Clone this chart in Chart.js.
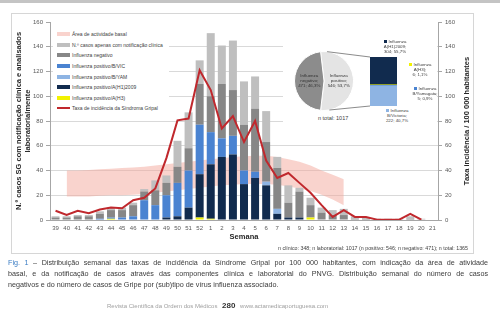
<!DOCTYPE html>
<html>
<head>
<meta charset="utf-8">
<script src="https://cdn.jsdelivr.net/npm/chart.js@4.4.0/dist/chart.umd.min.js"></script>
<style>
  body { margin: 0; width: 500px; height: 330px; background: #fff; position: relative; overflow: hidden;
         font-family: "Liberation Sans", Arial, sans-serif; }
  #topbar { position: absolute; left: 0; top: 0; width: 500px; height: 3px; background: #c4c4c4; }
  #frame { position: absolute; left: 11px; top: 13px; width: 461px; height: 239px; border: 1px solid #d6d6d6; }
  #main { position: absolute; left: 0; top: 0; }
  #legend { position: absolute; left: 53px; top: 29px; width: 116px; height: 85px; background: #fff; }
  .lg-row { height: 10.6px; display: flex; align-items: center; padding-left: 4px; font-size: 5px; color: #404040; white-space: nowrap; }
  .lg-sw { width: 13px; height: 4px; margin-right: 2px; flex: none; }
  #inset { position: absolute; left: 283px; top: 25px; width: 154px; height: 101px; background: #fff; }
  #pie { position: absolute; left: 294px; top: 50px; }
  #col { position: absolute; left: 370px; top: 57px; }
  .sub { position: absolute; font-size: 4.4px; line-height: 5px; color: #404040; text-align: center; white-space: nowrap; }
  .mk { display: inline-block; width: 3px; height: 3px; margin-right: 2px; vertical-align: middle; }
  #ntotal { position: absolute; left: 318px; top: 115px; font-size: 5.5px; color: #404040; }
  #nline { position: absolute; right: 32px; top: 245px; font-size: 5.3px; color: #404040; white-space: nowrap; }
  #caption { position: absolute; left: 8px; top: 257px; width: 480px; font-size: 7.2px; line-height: 11px; color: #3a3a3a; }
  #caption div { text-align: justify; text-align-last: justify; white-space: nowrap; }
  #caption div.last { text-align-last: left; }
  #caption span.fig { color: #3b7dc4; }
  #footer { position: absolute; left: 107px; top: 301px; font-size: 6px; color: #a0a0a0; white-space: nowrap; }
  #footer b { color: #333; font-size: 8px; margin: 0 3px; }
</style>
</head>
<body>
<div id="topbar"></div>
<div id="frame"></div>
<canvas id="main" width="500" height="255"></canvas>
<div id="legend"></div>
<div id="inset"></div>
<canvas id="pie" width="76" height="62"></canvas>
<canvas id="col" width="27" height="49"></canvas>
<div id="ntotal">n total: 1017</div>
<div id="nline">n clínico: 348; n laboratorial: 1017 (n positivo: 546; n negativo: 471); n total: 1365</div>
<div id="caption">
  <div><span class="fig">Fig. 1</span> – Distribuição semanal das taxas de incidência da Síndrome Gripal por 100 000 habitantes, com indicação da área de atividade</div>
  <div>basal, e da notificação de casos através das componentes clínica e laboratorial do PNVG. Distribuição semanal do número de casos</div>
  <div class="last">negativos e do número de casos de Gripe por (sub)tipo de vírus influenza associado.</div>
</div>
<div id="footer">Revista Científica da Ordem dos Médicos <b>280</b> www.actamedicaportuguesa.com</div>

<script>
// dados semanais (semana 39 a semana 21)
const weeks = ['39','40','41','42','43','44','45','46','47','48','49','50','51','52',
  '1','2','3','4','5','6','7','8','9','10','11','12','13','14','15','16','17','18','19','20','21'];
const posH3   = [0,0,0,0,0,1,0,0,0,0,0,0,0,2,1,0,0,0,0,0,0,0,0,2,0,0,0,0,0,0,0,0,0,0,0];
const posH1   = [0,0,0,0,0,0,0,0,0,0,2,3,10,35,44,51,53,29,34,28,5,2,2,0,0,0,0,0,0,0,0,0,0,0,0];
const posBVic = [0,0,0,0,1,1,2,3,16,12,18,27,30,40,26,15,15,11,5,0,0,0,0,0,0,0,0,0,0,0,0,0,0,0,0];
const posBYam = [0,0,0,0,0,0,0,0,0,0,0,0,0,0,0,0,0,0,0,3,4,0,0,0,0,0,0,0,0,0,0,0,0,0,0];
const negativo = [2,2,3,3,4,6,6,9,7,12,10,13,18,33,29,44,37,37,51,32,33,12,21,10,6,4,4,1,1,0,0,0,1,0,0];
const clinico  = [1,1,1,1,2,2,2,2,2,8,6,21,29,19,51,31,40,35,26,25,9,14,3,6,4,4,5,2,1,1,1,1,2,1,0];
const taxa = [7.5,4,7.5,5.5,8.5,10,9.5,16,18,25.5,50,80.5,82,121,105,74,84,63,80,48,34,38,30,22,12,
  2.5,8,2.5,2.5,0.3,0.3,0.3,5,0.3,null];
const basalHigh = [null,40,40,40.5,41,41.5,42,42.5,43,44,45,46,47,48,49,50,51,51.5,52,52,51,49,47,44,40,36.5,33,
  null,null,null,null,null,null,null,null];
const basalLow  = [null,19,19,19,19.5,20,20,20.5,21,22,23,24,25,26,27,28,28.5,29,29,29,28.5,27,25.5,23.5,20.5,16.5,12,
  null,null,null,null,null,null,null,null];
const yTicksMax = 160;

// caixa: casos laboratoriais
const pieLabels = ['Influenza positivo', 'Influenza negativo'];
const pieValues = [546, 471];
const subLabels = ['Influenza B/Victoria', 'Influenza B/Yamagata', 'Influenza A(H3)', 'Influenza A(H1)2009'];
const subValues = [222, 5, 6, 304];

const C = {
  basal: 'rgba(244,168,156,0.5)',
  clin: '#bfbfbf',
  neg: '#878787',
  bvic: '#4a83d1',
  byam: '#8eb4e3',
  h1: '#112b4e',
  h3: '#f2f200',
  taxa: '#c0282d'
};

Chart.defaults.font.family = '"Liberation Sans", Arial, sans-serif';

const rightTitle = {
  id: 'rightTitle',
  afterDraw(chart) {
    const ctx = chart.ctx;
    const a = chart.chartArea;
    ctx.save();
    ctx.translate(chart.scales.y2.right - 33, (a.top + a.bottom) / 2);
    ctx.rotate(-Math.PI / 2);
    ctx.font = 'bold 7.5px "Liberation Sans", Arial, sans-serif';
    ctx.fillStyle = '#262626';
    ctx.textAlign = 'center';
    ctx.textBaseline = 'middle';
    ctx.fillText('Taxa incidência / 100 000 habitantes', 0, 0);
    ctx.restore();
  }
};

const tickFont = { size: 6 };
const main = new Chart(document.getElementById('main'), {
  type: 'bar',
  data: {
    labels: weeks,
    datasets: [
      { type: 'line', label: 'basal inferior', data: basalLow, yAxisID: 'y2', borderColor: 'rgba(0,0,0,0)',
        pointRadius: 0, fill: false, order: 10 },
      { type: 'line', label: 'Área de actividade basal', data: basalHigh, yAxisID: 'y2', borderColor: 'rgba(0,0,0,0)',
        backgroundColor: C.basal, pointRadius: 0, fill: '-1', order: 10 },
      { label: 'Influenza positivo/A(H3)', data: posH3, backgroundColor: C.h3, order: 5 },
      { label: 'Influenza positivo/A(H1)2009', data: posH1, backgroundColor: C.h1, order: 5 },
      { label: 'Influenza positivo/B/VIC', data: posBVic, backgroundColor: C.bvic, order: 5 },
      { label: 'Influenza positivo/B/YAM', data: posBYam, backgroundColor: C.byam, order: 5 },
      { label: 'Influenza negativo', data: negativo, backgroundColor: C.neg, order: 5 },
      { label: 'N.º casos apenas com notificação clínica', data: clinico, backgroundColor: C.clin, order: 5 },
      { type: 'line', label: 'Taxa de incidência da Síndroma Gripal', data: taxa, yAxisID: 'y2',
        borderColor: C.taxa, borderWidth: 2, pointRadius: 0, fill: false, order: 1 }
    ]
  },
  options: {
    responsive: false,
    animation: false,
    barPercentage: 0.72,
    categoryPercentage: 1,
    layout: { padding: { left: 11, top: 22, right: 0, bottom: 0 } },
    plugins: { legend: { display: false }, tooltip: { enabled: false } },
    scales: {
      x: {
        stacked: true,
        grid: { display: false, drawTicks: false },
        border: { color: '#a6a6a6' },
        ticks: { color: '#595959', font: tickFont, padding: 5, maxRotation: 0, autoSkip: false },
        title: { display: true, text: 'Semana', color: '#262626', font: { size: 7.5, weight: 'bold' },
                 padding: { top: 0, bottom: 14 } },
        afterFit(s) { s.height = 35; }
      },
      y: {
        stacked: true, min: 0, max: yTicksMax,
        ticks: { stepSize: 20, color: '#595959', font: tickFont, padding: 3 },
        grid: { color: c => c.tick && c.tick.value === yTicksMax ? 'rgba(0,0,0,0)' : '#d9d9d9',
                tickColor: '#a6a6a6', tickLength: 4 },
        border: { color: '#a6a6a6' },
        title: { display: true, color: '#262626', font: { size: 7.5, weight: 'bold' },
                 text: ['N.º casos SG com notificação clínica e analisados', 'laboratorialmente'],
                 padding: { top: 3, bottom: 0 } },
        afterFit(s) { s.width = 39; }
      },
      y2: {
        position: 'right', min: 0, max: yTicksMax,
        ticks: { stepSize: 20, color: '#595959', font: tickFont, padding: 3 },
        grid: { drawOnChartArea: false, tickColor: '#a6a6a6', tickLength: 4 },
        border: { color: '#a6a6a6' },
        afterFit(s) { s.width = 62; }
      }
    }
  },
  plugins: [rightTitle]
});

// legenda em html, pela ordem do original
const legendOrder = [1, 7, 6, 4, 5, 3, 2, 8];
const lg = document.getElementById('legend');
legendOrder.forEach(i => {
  const ds = main.data.datasets[i];
  const row = document.createElement('div');
  row.className = 'lg-row';
  const sw = document.createElement('span');
  sw.className = 'lg-sw';
  if (ds.type === 'line' && i === 8) {
    sw.style.height = '2px';
    sw.style.background = ds.borderColor;
  } else {
    sw.style.background = ds.backgroundColor;
  }
  row.appendChild(sw);
  row.appendChild(document.createTextNode(ds.label));
  lg.appendChild(row);
});

// pie: positivos / negativos
const pieTotal = pieValues.reduce((a, b) => a + b, 0);
const pct = v => (v * 100).toFixed(1).replace('.', ',') + '%';
const pieText = {
  id: 'pieText',
  afterDatasetsDraw(chart) {
    const ctx = chart.ctx;
    const meta = chart.getDatasetMeta(0);
    ctx.save();
    ctx.font = '4.4px "Liberation Sans", Arial, sans-serif';
    ctx.fillStyle = '#333';
    ctx.textAlign = 'center';
    ctx.textBaseline = 'middle';
    meta.data.forEach((arc, i) => {
      const p = arc.tooltipPosition();
      const parts = pieLabels[i].split(' ');
      const lines = [parts[0], parts[1] + ';', pieValues[i] + '; ' + pct(pieValues[i] / pieTotal)];
      lines.forEach((t, k) => ctx.fillText(t, p.x, p.y + (k - 1) * 5));
    });
    // linhas de ligação à coluna
    const arc = meta.data[0];
    const r = arc.outerRadius;
    const a0 = arc.startAngle + 0.22;
    const a1 = arc.endAngle - 0.3;
    ctx.strokeStyle = '#595959';
    ctx.lineWidth = 0.7;
    ctx.beginPath();
    ctx.moveTo(arc.x + r * Math.cos(a0), arc.y + r * Math.sin(a0));
    ctx.lineTo(chart.width, 7);
    ctx.moveTo(arc.x + r * Math.cos(a1), arc.y + r * Math.sin(a1));
    ctx.lineTo(chart.width, 56);
    ctx.stroke();
    ctx.restore();
  }
};
new Chart(document.getElementById('pie'), {
  type: 'pie',
  data: { labels: pieLabels, datasets: [{ data: pieValues, backgroundColor: ['#e4e4e4', '#8c8c8c'],
    borderColor: '#ffffff', borderWidth: 1 }] },
  options: {
    responsive: false, animation: false,
    rotation: 90 - pieValues[0] / pieTotal * 180,
    layout: { padding: { left: 0, right: 16, top: 1, bottom: 1 } },
    plugins: { legend: { display: false }, tooltip: { enabled: false } }
  },
  plugins: [pieText]
});

// coluna: subtipos dos positivos
const subColors = [C.byam, C.bvic, C.h3, C.h1];
const subTotal = subValues.reduce((a, b) => a + b, 0);
new Chart(document.getElementById('col'), {
  type: 'bar',
  data: { labels: [''], datasets: subLabels.map((l, i) => ({ label: l, data: [subValues[i]],
    backgroundColor: subColors[i], barPercentage: 1, categoryPercentage: 1 })) },
  options: {
    responsive: false, animation: false,
    layout: { padding: 0 },
    scales: { x: { display: false, stacked: true }, y: { display: false, stacked: true, min: 0, max: subTotal } },
    plugins: { legend: { display: false }, tooltip: { enabled: false } }
  }
});

// rótulos dos subtipos
const subPos = [[397, 108], [425, 86], [420, 62], [395, 39]];
const posTotal = pieValues[0];
subLabels.forEach((l, i) => {
  const d = document.createElement('div');
  d.className = 'sub';
  const parts = l.split(' ');
  d.innerHTML = '<span class="mk" style="background:' + subColors[i] + '"></span>' + parts[0] + '<br>' +
    parts[1] + ';<br>' + subValues[i] + '; ' + pct(subValues[i] / posTotal);
  d.style.left = (subPos[i][0] - 15) + 'px';
  d.style.top = subPos[i][1] + 'px';
  d.style.width = '30px';
  document.body.appendChild(d);
});
</script>
</body>
</html>
